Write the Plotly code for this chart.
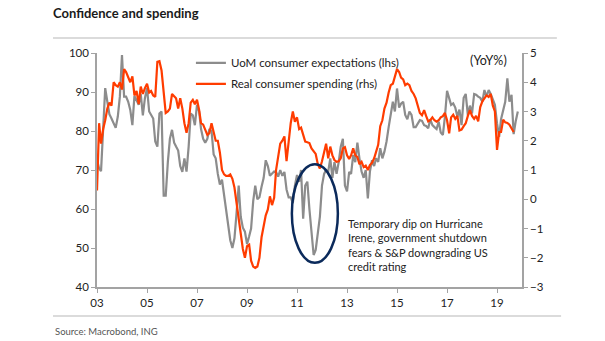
import pandas as pd
import plotly.graph_objects as go

# University of Michigan consumer expectations index (monthly, from Jan 2003)
uom_expectations = [
    72.6, 70.4, 69.7, 80, 91, 87.5, 84.3, 83.2, 82, 80.8, 83.7, 88.8,
    99.5, 88.8, 88.8, 87.5, 85.4, 81.5, 89, 88, 86.7, 89.5, 84, 88.4,
    91, 85, 84, 83.2, 77.3, 76, 84.5, 85, 63.4, 63.4, 72, 78,
    80.3, 77, 76, 75, 71, 69.5, 73, 69.6, 76, 84.5, 84, 81.5,
    86.7, 85, 80.5, 78, 77, 78, 80.5, 80, 74, 73, 69, 66.3,
    67.5, 63.5, 60.5, 56, 52, 50, 52.5, 59, 66, 58, 55.2, 54.2,
    51, 53, 55, 62, 66, 62.5, 63, 65.7, 68, 72.5, 71, 68.5,
    69, 69.6, 69.5, 68.3, 70, 68.5, 69.5, 65, 63, 63, 61.5, 66,
    68.7, 67, 70, 57.5, 66, 67, 60, 54, 48.2, 49.5, 53.5, 58,
    66, 69, 70, 69.6, 73, 68, 72, 69, 72, 76, 78, 66,
    64.5, 69.5, 69, 73.8, 72, 77, 73, 69.6, 68, 70, 62.7, 69.6,
    72.5, 71, 73, 72.1, 75.6, 73, 74.7, 77.3, 81, 84, 87.5, 85,
    90.9, 86, 87, 87.5, 84.1, 83, 85, 84.1, 81, 81, 82, 82.8,
    82.6, 81.5, 81.3, 80.7, 83, 81.5, 81, 80.5, 82.4, 79.6, 79, 83.7,
    90.3, 88, 86.7, 87.1, 86, 83.7, 85.5, 81.5, 88.5, 89.5, 84, 86.5,
    84.5, 89.5, 89.3, 88.8, 88.5, 87.5, 90.5, 88.8, 90.5, 89.5, 88, 86.7,
    82, 78.5, 83, 85, 87.5, 93.5, 87.5, 89.3, 79.2, 82.5, 85,
]

# Real consumer spending, year-on-year % change (monthly, from Jan 2003)
real_spending_yoy = [
    0.3, 2.6, 1.9, 2.4, 2.7, 3.1, 3.3, 3.2, 4.0, 3.9, 3.85, 4.0,
    3.75, 4.45, 4.35, 4.15, 4.0, 4.2, 3.55, 3.7, 3.25, 3.85, 3.6, 3.8,
    3.95, 3.65, 3.7, 3.55, 3.5, 4.7, 4.72, 4.4, 3.6, 2.95, 3.0, 3.1,
    3.6, 3.53, 3.45, 3.1, 3.45, 3.1, 2.6, 2.27, 2.6, 3.3, 3.4, 3.25,
    3.4, 3.05, 2.6, 2.55, 2.4, 2.2, 2.26, 2.6, 2.3, 2.0, 2.0, 1.6,
    1.0, 0.85, 0.8, 0.8, 0.85, 0.7, 0.4, -0.15, -0.6, -1.3, -1.7, -2.0,
    -1.6, -1.55, -2.1, -2.3, -2.35, -2.3, -2.0, -1.3, -0.85, -0.55, -0.35, 0.1,
    -0.2, 0.05, 1.0, 1.55, 1.9, 2.0, 2.15, 1.3, 2.0, 2.6, 3.0, 2.65,
    2.8, 2.4, 2.45, 2.2, 1.97, 1.95, 1.92, 1.74, 1.63, 1.55, 1.2, 1.05,
    1.3, 1.6, 1.9, 1.4, 1.8, 1.5, 1.34, 1.28, 1.3, 1.4, 1.74, 1.78,
    1.5, 1.38, 1.5, 1.74, 1.5, 1.45, 1.2, 1.28, 1.1, 1.15, 1.0, 1.17,
    1.25, 1.4, 1.63, 1.86, 2.5, 2.7, 3.1, 3.3, 3.65, 3.9, 3.95, 4.16,
    4.45, 4.35, 4.16, 4.1, 3.9, 3.95, 3.9, 3.7, 3.6, 3.45, 3.15, 2.95,
    2.87, 3.05, 2.85, 2.66, 2.7, 2.8, 2.7, 2.65, 2.7, 2.8, 2.84, 2.95,
    2.7, 2.25, 2.8, 2.89, 2.75, 2.85, 2.35, 2.38, 2.5, 2.6, 2.85, 3.05,
    2.85, 2.75, 2.85, 2.66, 3.15, 3.35, 3.45, 3.55, 3.5, 3.6, 3.2, 3.0,
    1.69, 2.3, 2.3, 2.72, 2.63, 2.61, 2.55, 2.43, 2.3,
]

year_ticks = [2003, 2005, 2007, 2009, 2011, 2013, 2015, 2017, 2019]
year_tick_labels = ["03", "05", "07", "09", "11", "13", "15", "17", "19"]
left_ticks = [40, 50, 60, 70, 80, 90, 100]
right_ticks = [-3, -2, -1, 0, 1, 2, 3, 4, 5]

uom_dates = pd.date_range("2003-01-01", periods=len(uom_expectations), freq="MS")
spend_dates = pd.date_range("2003-01-01", periods=len(real_spending_yoy), freq="MS")

FONT = "Lato"
AXIS_GREY = "#a3a3a3"
TEXT = "#222222"

fig = go.Figure()
fig.add_trace(go.Scatter(
    x=uom_dates, y=uom_expectations, mode="lines",
    name="UoM consumer expectations (lhs)", legendgroup="a",
    line=dict(color="#8c8c8c", width=2.2),
))
fig.add_trace(go.Scatter(
    x=spend_dates, y=real_spending_yoy, mode="lines", yaxis="y2",
    name="Real consumer spending (rhs)", legendgroup="b",
    line=dict(color="#ff3c00", width=2.2),
))

axis_common = dict(
    showline=True, linecolor=AXIS_GREY, linewidth=1.5,
    ticks="outside", ticklen=4, tickcolor=AXIS_GREY, tickwidth=1,
    showgrid=False, zeroline=False,
    tickfont=dict(family=FONT, size=11.5, color=TEXT),
)

fig.update_layout(
    width=605, height=341,
    margin=dict(l=97, r=83, t=53, b=54),
    paper_bgcolor="white", plot_bgcolor="white",
    font=dict(family=FONT, color=TEXT),
    title=dict(
        text="<b>Confidence and spending</b>",
        font=dict(family=FONT, size=13, color="#1a1a1a"),
        x=53 / 605, xanchor="left", xref="container",
        y=1 - 13 / 341, yanchor="middle", yref="container",
    ),
    xaxis=dict(
        **axis_common,
        range=["2003-01-01", "2020-01-01"],
        tickvals=[f"{y}-01-01" for y in year_ticks],
        ticktext=year_tick_labels,
    ),
    yaxis=dict(**axis_common, range=[40, 100], tickvals=left_ticks),
    yaxis2=dict(**axis_common, range=[-3, 5], tickvals=right_ticks,
                overlaying="y", side="right"),
    legend=dict(
        x=0.221, xanchor="left", y=1.02, yanchor="top",
        bgcolor="rgba(0,0,0,0)", tracegroupgap=2,
        font=dict(family=FONT, size=11.5, color=TEXT),
    ),
    showlegend=True,
)

# separator rules above and below the chart
fig.add_shape(type="line", xref="paper", yref="paper",
              x0=-0.1035, x1=1.082, y0=1.064, y1=1.064,
              line=dict(color="#cfcfcf", width=1.5))
fig.add_shape(type="line", xref="paper", yref="paper",
              x0=-0.1035, x1=1.092, y0=-0.124, y1=-0.124,
              line=dict(color="#cfcfcf", width=1.5))

# ellipse highlighting the 2011 dip
fig.add_shape(type="circle", xref="x", yref="y",
              x0="2010-10-18", x1="2012-08-20", y0=46.2, y1=71.5,
              line=dict(color="#0b2a5b", width=2.5))

fig.add_annotation(
    text="Temporary dip on Hurricane<br>Irene, government shutdown<br>"
         "fears &amp; S&amp;P downgrading US<br>credit rating",
    xref="paper", yref="paper", x=0.586, y=0.1816,
    xanchor="left", yanchor="middle", align="left", showarrow=False,
    font=dict(family=FONT, size=11, color=TEXT),
)
fig.add_annotation(
    text="(YoY%)", xref="paper", yref="paper", x=0.92, y=0.97,
    xanchor="center", yanchor="middle", showarrow=False,
    font=dict(family=FONT, size=12.5, color=TEXT),
)
fig.add_annotation(
    text="Source: Macrobond, ING", xref="paper", yref="paper",
    x=-0.1035, y=-0.192, xanchor="left", yanchor="middle", showarrow=False,
    font=dict(family=FONT, size=9.5, color="#555555"),
)

fig.write_html("out.html")
